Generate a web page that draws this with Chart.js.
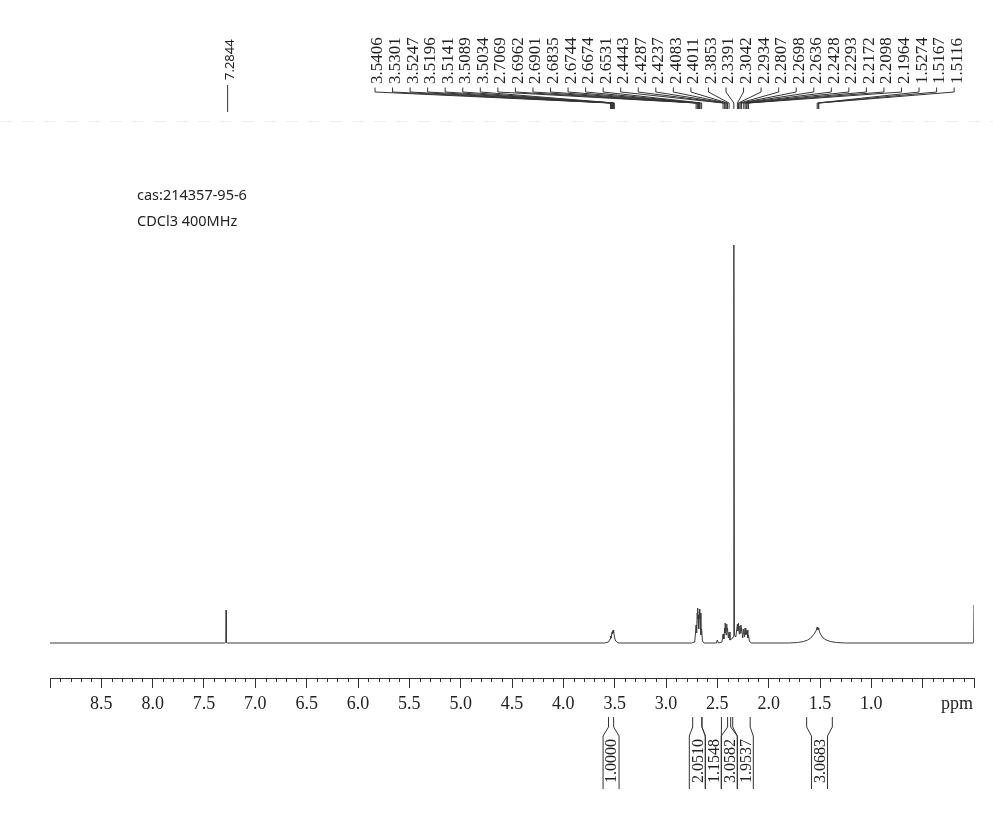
<!DOCTYPE html>
<html lang="en">
<head>
<meta charset="UTF-8">
<title>1H NMR cas:214357-95-6</title>
<script src="https://cdn.jsdelivr.net/npm/chart.js"></script>
<style>
  body { margin: 0; background: #fff; }
  canvas { display: block; }
</style>
</head>
<body>
<canvas id="nmrChart" width="993" height="813"></canvas>
<script>
// spectrum: chemical shift (ppm) and height above baseline
const shifts = [
  9.0, 7.30, 7.2875, 7.2844, 7.2815, 7.27,
  3.60, 3.56, 3.545, 3.5406, 3.535, 3.5301, 3.5247, 3.522, 3.5196, 3.517, 3.5141, 3.511, 3.5089, 3.5034, 3.495, 3.48, 3.46,
  2.75, 2.72, 2.7069, 2.702, 2.6962, 2.693, 2.6901, 2.687, 2.6835, 2.679, 2.6744, 2.671, 2.6674, 2.660, 2.6531, 2.645, 2.63,
  2.51, 2.50, 2.49,
  2.455, 2.4443, 2.436, 2.4287, 2.426, 2.4237, 2.415, 2.4083, 2.405, 2.4011, 2.393, 2.3853, 2.377,
  2.36, 2.345, 2.3391, 2.333, 2.32,
  2.3042, 2.299, 2.2934, 2.287, 2.2807, 2.275, 2.2698, 2.2665, 2.2636, 2.253, 2.2428, 2.236, 2.2293, 2.223, 2.2172, 2.213, 2.2098, 2.203, 2.1964, 2.188, 2.17,
  1.80, 1.72, 1.66, 1.62, 1.59, 1.565, 1.55, 1.54, 1.535, 1.5274, 1.522, 1.5167, 1.5116, 1.505, 1.49, 1.47, 1.44, 1.40, 1.34, 1.25,
  0.01, 0.003, 0.0
];
const intensity = [
  0, 0, 0.5, 33, 0.5, 0,
  0, 1, 4, 7, 5, 9, 11, 9, 12, 10, 13, 10, 11, 7, 3, 1, 0,
  0, 1, 18, 10, 30, 24, 35, 20, 28, 14, 34, 24, 30, 8, 14, 2, 0,
  0, 3, 0,
  1, 9, 4, 15, 10, 20, 8, 19, 12, 15, 5, 11, 3,
  4, 6, 398, 8, 6,
  19, 12, 20, 9, 17, 10, 18, 12, 15, 5, 14, 6, 15, 8, 12, 9, 13, 5, 8, 2, 0,
  0, 0.5, 1.5, 3, 5, 8, 10, 12, 13, 16, 13, 15, 14, 11, 8, 5, 3, 1.5, 0.5, 0,
  0, 0.5, 38
];

// peak picking labels
const peakLabels = [
  3.5406, 3.5301, 3.5247, 3.5196, 3.5141, 3.5089, 3.5034,
  2.7069, 2.6962, 2.6901, 2.6835, 2.6744, 2.6674, 2.6531,
  2.4443, 2.4287, 2.4237, 2.4083, 2.4011, 2.3853,
  2.3391, 2.3042, 2.2934, 2.2807, 2.2698, 2.2636, 2.2428, 2.2293, 2.2172, 2.2098, 2.1964,
  1.5274, 1.5167, 1.5116
];
const solventPeak = 7.2844;

// integrals
const intFrom = [3.56, 2.74, 2.65, 2.40, 2.35, 1.63];
const intTo = [3.51, 2.65, 2.46, 2.37, 2.18, 1.38];
const intValues = ['1.0000', '2.0510', '1.1548', '3.0582', '1.9537', '3.0683'];

// axis tick labels
const tickLabels = ['8.5', '8.0', '7.5', '7.0', '6.5', '6.0', '5.5', '5.0', '4.5', '4.0', '3.5', '3.0', '2.5', '2.0', '1.5', '1.0'];

const infoLines = ['cas:214357-95-6', 'CDCl3 400MHz'];

const serif = '"Liberation Serif", "Times New Roman", serif';
const sans = '"Noto Sans", "Liberation Sans", sans-serif';

function isMajor(v) {
  return Math.round(v * 10) % 5 === 0;
}

function rotatedText(c, text, x, y, font) {
  c.save();
  c.translate(x, y);
  c.rotate(-Math.PI / 2);
  c.font = font;
  c.textAlign = 'left';
  c.textBaseline = 'middle';
  c.fillText(text, 0, 0);
  c.restore();
}

const decorations = {
  id: 'decorations',
  afterDraw(chart) {
    const c = chart.ctx;
    const xs = chart.scales.x;
    const base = chart.chartArea.bottom;
    c.save();
    c.strokeStyle = '#333';
    c.fillStyle = '#222';
    c.lineWidth = 1;

    // minor ticks
    c.beginPath();
    for (let i = 0; i <= 90; i++) {
      if (i % 5 === 0) continue;
      const px = Math.round(xs.getPixelForValue(i / 10)) + 0.5;
      c.moveTo(px, base);
      c.lineTo(px, base + 4);
    }
    c.stroke();

    // unit
    c.font = '18px ' + serif;
    c.textAlign = 'right';
    c.textBaseline = 'middle';
    c.fillText('ppm', xs.getPixelForValue(0) - 1, 704);

    // faint scan line
    c.save();
    c.strokeStyle = '#eeeeee';
    c.setLineDash([12, 10]);
    c.beginPath();
    c.moveTo(0, 121.5);
    c.lineTo(993, 121.5);
    c.stroke();
    c.restore();

    // peak labels with leaders
    const labelStart = 377, labelGap = 17.55;
    peakLabels.forEach((v, i) => {
      const lx = labelStart + i * labelGap;
      const px = xs.getPixelForValue(v);
      rotatedText(c, v.toFixed(4), lx + 1, 84, '17px ' + serif);
      c.beginPath();
      c.moveTo(lx - 2, 87.5);
      c.lineTo(lx - 2, 92);
      c.lineTo(px, 103);
      c.lineTo(px, 109);
      c.stroke();
    });

    // solvent label
    const sp = xs.getPixelForValue(solventPeak) + 1.5;
    rotatedText(c, solventPeak.toFixed(4), sp + 3, 80, '13px ' + sans);
    c.beginPath();
    c.moveTo(sp, 85);
    c.lineTo(sp, 112);
    c.stroke();

    // sample info
    c.font = '14.5px ' + sans;
    c.textAlign = 'left';
    c.textBaseline = 'middle';
    infoLines.forEach((t, i) => c.fillText(t, 137, 196 + i * 26));

    // integrals
    const half = 8, gap = 16;
    let prev = -Infinity;
    intValues.forEach((label, i) => {
      const a = xs.getPixelForValue(intFrom[i]);
      const b = xs.getPixelForValue(intTo[i]);
      let cx = Math.max((a + b) / 2, prev + gap);
      prev = cx;
      c.beginPath();
      c.moveTo(a, 717);
      c.lineTo(a, 727);
      c.lineTo(cx - half, 736);
      c.lineTo(cx - half, 789);
      c.moveTo(b, 717);
      c.lineTo(b, 727);
      c.lineTo(cx + half, 736);
      c.lineTo(cx + half, 789);
      c.stroke();
      rotatedText(c, label, cx + 1, 783, '16px ' + serif);
    });
    c.restore();
  }
};

const ctx = document.getElementById('nmrChart').getContext('2d');
new Chart(ctx, {
  type: 'line',
  data: {
    datasets: [{
      data: shifts.map((x, i) => ({ x, y: intensity[i] })),
      borderColor: '#3c3c3c',
      borderWidth: 1,
      pointRadius: 0,
      tension: 0,
      fill: false
    }]
  },
  options: {
    responsive: false,
    animation: false,
    layout: { padding: { left: 50, right: 19, top: 130, bottom: 0 } },
    plugins: { legend: { display: false }, tooltip: { enabled: false } },
    scales: {
      x: {
        type: 'linear',
        reverse: true,
        min: 0,
        max: 9,
        afterBuildTicks(axis) {
          axis.ticks = [];
          for (let i = 0; i <= 90; i++) axis.ticks.push({ value: i / 10 });
        },
        afterFit(axis) { axis.height = 135; },
        ticks: {
          autoSkip: false,
          maxRotation: 0,
          padding: 5,
          color: '#222',
          font: { family: serif, size: 18 },
          callback(value) {
            const t = Number(value).toFixed(1);
            return tickLabels.includes(t) ? t : '';
          }
        },
        grid: {
          drawOnChartArea: false,
          tickLength: 10,
          tickColor: c => (c.tick && isMajor(c.tick.value)) ? '#333' : 'rgba(0,0,0,0)'
        },
        border: { display: true, color: '#333', width: 1 }
      },
      y: { display: false, min: -35, max: 513 }
    }
  },
  plugins: [decorations]
});
</script>
</body>
</html>
